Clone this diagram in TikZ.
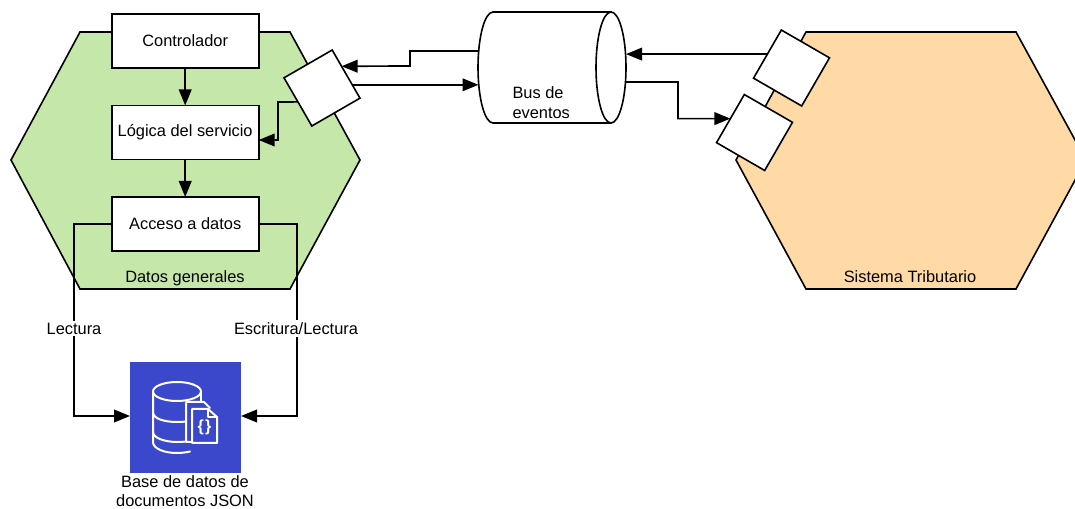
\documentclass[tikz,border=0pt]{standalone}
\usepackage{fontspec}
\setmainfont{Liberation Sans}
\usetikzlibrary{arrows.meta,shapes.geometric}
\tikzset{
  x=0.75pt,y=-0.75pt,
  every node/.style={font=\fontsize{12.3}{15}\selectfont,inner sep=0pt,outer sep=0pt,text=black},
  hexa/.style={draw=black,line width=1.2pt,line join=miter},
  procbox/.style={draw=black,fill=white,line width=1.2pt,minimum width=110.25pt,minimum height=40.5pt},
  port/.style={draw=black,fill=white,line width=1.2pt,minimum width=41.7pt,minimum height=41.7pt},
  conn/.style={draw=black,line width=1.25pt},
  arr/.style={conn,-{Triangle[length=12pt,width=9.5pt]}},
  edgelabel/.style={fill=white,inner xsep=1pt,inner ysep=1.5pt},
  icon/.style={draw=white,line width=1.5pt,line join=round,line cap=round},
}
\definecolor{hexgreen}{HTML}{C5E7A9}
\definecolor{hexorange}{HTML}{FFD9A6}
\definecolor{dbblue}{HTML}{3B48CC}
\begin{document}
\begin{tikzpicture}
\useasboundingbox (0,0) rectangle (1075,509);
% hexagons
\path[hexa,fill=hexgreen] (11,160) -- (80,32) -- (290,32) -- (360,160) -- (290,289) -- (80,289) -- cycle;
\begin{scope}
\clip (0,0) rectangle (1075,509);
\path[hexa,fill=hexorange] (736,160) -- (806,32) -- (1016,32) -- (1086,160) -- (1016,289) -- (806,289) -- cycle;
\end{scope}
\node (lblgreen) at (185,278) {Datos generales};
\node (lblorange) at (910,276.5) {Sistema Tributario};
% boxes
\node[procbox] (ctrl) at (185.2,41) {\raisebox{0.6pt}{Controlador}};
\node[procbox] (logic) at (185.2,132.5) {Lógica del servicio};
\node[procbox] (data) at (185.2,224) {\raisebox{0.6pt}{Acceso a datos}};
% ports
\node[port,rotate=30] (pL) at (322,88) {};
\node[port,rotate=-30] (pT) at (791.5,68) {};
\node[port,rotate=-30] (pB) at (754.5,132.5) {};
% bus
\path[draw=black,fill=white,line width=1.2pt] (493,12) .. controls (484.7,12) and (478,37) .. (478,67.5) .. controls (478,98) and (484.7,123) .. (493,123) -- (611,123) -- (611,12) -- cycle;
\draw[fill=white,line width=1.2pt] (611,67.5) ellipse (15 and 55.5);
\node[minimum width=111pt,minimum height=83.25pt] (bus) at (552,67.5) {};
\node[align=left,anchor=west] (buslbl) at (512.5,102.5) {Bus de\\eventos};
% db
\node[fill=dbblue,minimum width=83.25pt,minimum height=83.25pt] (db) at (185.5,417.5) {};
\node[align=center,anchor=north,font=\fontsize{12.3}{14.3}\selectfont] (dblbl) at (185,475.5) {Base de datos de\\documentos JSON};
% db icon
\draw[icon] (177,391.5) ellipse (24 and 9.5);
\draw[icon] (153,392) -- (153,442) .. controls (153,449) and (165,453) .. (177,453) .. controls (181,453) and (186,452.5) .. (190,451.5);
\draw[icon] (153,412) .. controls (153,419) and (165,422) .. (177,422) .. controls (180,422) and (183,422) .. (186,421.5);
\draw[icon] (153,432) .. controls (153,438) and (165,442) .. (177,442) .. controls (180,442) and (183,442) .. (186,441.5);
\draw[icon] (201,392) -- (201,402);
\draw[icon] (192,442) -- (186,442) -- (186,402) -- (204,402) -- (210,408);
\draw[icon] (192,409) -- (208,409) -- (217,417) -- (217,443) -- (192,443) -- cycle;
\draw[icon] (208,409) -- (208,417) -- (217,417);
\node[text=white,font=\fontsize{12}{12}\selectfont\bfseries] (dbbrace) at (204.5,427) {\{\kern1pt\}};
% connectors
\coordinate (busIn) at (479,51);
\coordinate (busOut) at (478.5,0);
\coordinate (busR1) at (626,0);
\coordinate (busR2) at (626,82);
\draw[arr] (ctrl) -- (logic);
\draw[arr] (logic) -- (data);
\draw[arr] (busIn) -- (410,51) -- (410,66) -- (pL.18.6);
\draw[arr] (pL.-24) -- (pL.-24 -| busOut);
\draw[arr] (pL.west) -- (278,102) -- (278,140) -- (logic.east |- 278,140);
\draw[arr] (pT.west) -- (pT.west -| busR1);
\draw[arr] (busR2) -- (678,82) -- (678,118.6) -- (pB.west);
\draw[arr] (data.west) -- (74,224) -- (74,416) -- (db.west |- 74,416);
\draw[arr] (data.east) -- (297,224) -- (297,416) -- (db.east |- 297,416);
\node[edgelabel] (lread) at (74,328.5) {Lectura};
\node[edgelabel] (lwrite) at (296,328.5) {Escritura/Lectura};
\end{tikzpicture}
\end{document}
